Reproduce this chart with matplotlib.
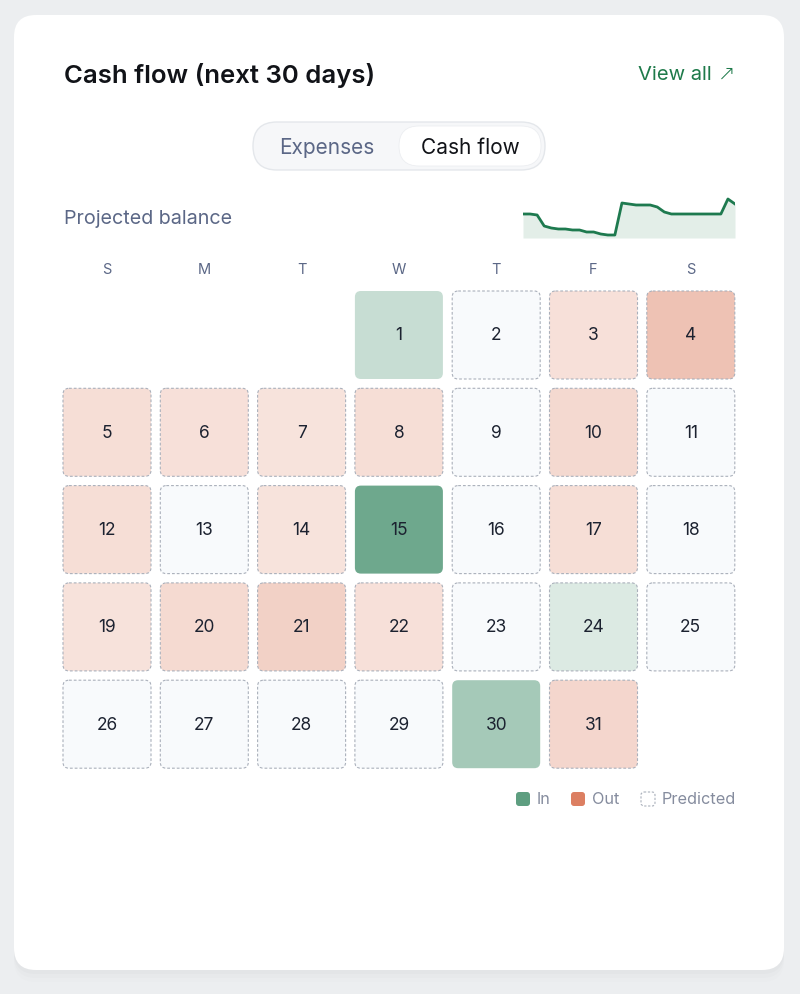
import matplotlib
matplotlib.use("Agg")
import matplotlib.pyplot as plt
from matplotlib.patches import FancyBboxPatch
from matplotlib.colors import to_rgb
import numpy as np

plt.rcParams['font.family'] = ['Inter', 'DejaVu Sans']

# calendar data: net flow per day in $k (sign = in/out), predicted days have dashed borders
days = list(range(1, 32))
net_flow = [3.5, 0, -2.4, -4.8, -2.6, -2.4, -2.2, -2.6, 0, -3.0,
            0, -2.6, 0, -2.2, 9.0, 0, -2.6, 0, -2.3, -2.9,
            -3.6, -2.4, 0, 2.2, 0, 0, 0, 0, 0, 5.6, -3.2]
actual_days = [1, 15, 30]
first_weekday = 3  # day 1 is a Wednesday
weekday_labels = ["S", "M", "T", "W", "T", "F", "S"]

# projected balance sparkline (relative units)
balance = [26, 26, 25, 14, 12, 11, 11, 10, 10, 8, 8, 6, 5, 5, 37, 36,
           35, 35, 35, 33, 28, 26, 26, 26, 26, 26, 26, 26, 26, 41, 36]

legend_labels = ["In", "Out", "Predicted"]

IN_COLOR = "#5e9e80"
OUT_COLOR = "#dc7f62"
EMPTY_COLOR = "#f8fafc"
TEXT_MUTED = "#5b6786"


def cell_color(v, scale=10.0):
    if v == 0:
        return EMPTY_COLOR
    t = min(abs(v) / scale, 1.0)
    full = np.array(to_rgb(IN_COLOR if v > 0 else OUT_COLOR))
    return tuple(1 - t + t * full)


fig = plt.figure(figsize=(8, 9.94), dpi=100)
fig.patch.set_facecolor("#eceef0")
ax = fig.add_axes([0, 0, 1, 1])
ax.set_xlim(0, 800)
ax.set_ylim(994, 0)
ax.axis("off")

# card + soft shadow
for off, a in [(12, 0.025), (8, 0.035), (4, 0.05)]:
    ax.add_patch(FancyBboxPatch((14, 15 + off), 770, 955, boxstyle="round,pad=0,rounding_size=22",
                                fc="#9aa0a8", ec="none", alpha=a))
ax.add_patch(FancyBboxPatch((14, 15), 770, 955, boxstyle="round,pad=0,rounding_size=22",
                            fc="white", ec="none"))

# header
ax.text(64, 76, "Cash flow (next 30 days)", fontsize=18.5, fontweight="semibold", color="#111318",
        va="center", ha="left")
ax.text(712, 75, "View all", fontsize=14.5, color="#1e7a4a", va="center", ha="right")
ax.text(735, 74, "\u2197", fontsize=15, color="#1e7a4a", va="center", ha="right",
        family="DejaVu Sans", fontweight="light")

# toggle
ax.add_patch(FancyBboxPatch((253, 122), 292, 48, boxstyle="round,pad=0,rounding_size=24",
                            fc="#f6f7f9", ec="#e4e7eb", lw=1))
ax.add_patch(FancyBboxPatch((399, 126), 142, 40, boxstyle="round,pad=0,rounding_size=20",
                            fc="white", ec="#eceef1", lw=0.6))
ax.text(327, 148, "Expenses", fontsize=15, color=TEXT_MUTED, ha="center", va="center")
ax.text(470, 148, "Cash flow", fontsize=15, color="#111318", ha="center", va="center")

ax.text(64, 219, "Projected balance", fontsize=14.2, color=TEXT_MUTED, ha="left", va="center")

# sparkline
sax = fig.add_axes([523 / 800, 1 - 238 / 994, 212 / 800, 43 / 994])
x = np.arange(len(balance))
sax.fill_between(x, balance, 2, color="#e3eee8", lw=0)
sax.plot(x, balance, color="#1e7a4f", lw=2)
sax.set_xlim(0, len(balance) - 1)
sax.set_ylim(2, 45)
sax.axis("off")

# calendar grid
x0, y0, step, size = 107, 335, 97.3, 88
for i, lab in enumerate(weekday_labels):
    ax.text(x0 + i * step, 270, lab, fontsize=10.5, color=TEXT_MUTED, ha="center", va="center")

for d, v in zip(days, net_flow):
    idx = d - 1 + first_weekday
    col, row = idx % 7, idx // 7
    cx, cy = x0 + col * step, y0 + row * step
    predicted = d not in actual_days
    ax.add_patch(FancyBboxPatch((cx - size / 2, cy - size / 2), size, size,
                                boxstyle="round,pad=0,rounding_size=6",
                                fc=cell_color(v),
                                ec="#aab0bb" if predicted else "none",
                                lw=0.8, ls=(0, (2.5, 1.8))))
    ax.text(cx, cy + 1, str(d), fontsize=12.5, color="#1c2230", ha="center", va="center")

# legend
lx = [516, 571, 641]
colors = [IN_COLOR, OUT_COLOR, "white"]
for xx, c, lab in zip(lx, colors, legend_labels):
    dashed = lab == "Predicted"
    ax.add_patch(FancyBboxPatch((xx, 792), 14, 14, boxstyle="round,pad=0,rounding_size=3",
                                fc=c, ec="#aab0bb" if dashed else "none",
                                lw=0.8, ls=(0, (2, 1.5))))
    ax.text(xx + 21, 800, lab, fontsize=11.7, color="#858c9e", ha="left", va="center")

fig.savefig("out.png", dpi=100, facecolor=fig.get_facecolor())
